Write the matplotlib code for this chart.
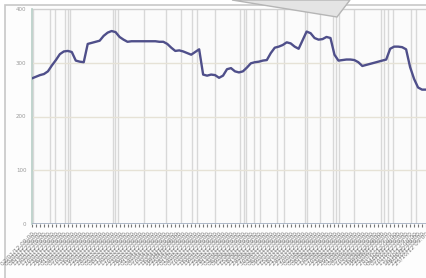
import matplotlib
matplotlib.use("Agg")
from matplotlib import pyplot as plt
from matplotlib.patches import Polygon, Rectangle
import pandas as pd

# Data (one sample per time step)
values = [271, 274, 277, 279, 284, 295, 305, 316, 321, 322,
          320, 304, 302, 301, 335, 337, 339, 341, 350, 356,
          359, 357, 348, 343, 339, 340, 340, 340, 340, 340,
          340, 340, 339, 339, 335, 328, 322, 323, 321, 318,
          315, 320, 325, 278, 276, 278, 277, 272, 276, 288,
          290, 284, 282, 284, 291, 299, 301, 302, 304, 305,
          318, 328, 330, 333, 338, 336, 330, 326, 342, 358,
          355, 346, 343, 344, 348, 346, 315, 304, 305, 306,
          306, 305, 301, 294, 296, 298, 300, 302, 304, 306,
          326, 330, 330, 329, 325, 292, 270, 254, 250, 250]
steps = list(range(len(values)))
tick_labels = [d.strftime('%d/%m/%y %H:%M')
               for d in pd.date_range('2012-01-02 09:00', periods=len(values), freq='3D')]
yticks = [0, 100, 200, 300, 400]
# irregular vertical grid lines (event markers)
event_steps = [0.25, 4.5, 5.75, 8.25, 9, 9.5, 20.25, 20.75, 21.5, 28.25, 33.75,
               37.5, 40.25, 41.5, 46, 52.25, 53.25, 53.75, 55.75, 57.25, 61.5,
               63.25, 68.5, 69, 72.25, 75.75, 76.5, 77.25, 81, 87.75, 88.5,
               89.5, 90.75, 95.25, 96.5]

fig = plt.figure(figsize=(4.26, 2.78), dpi=100)
fig.patch.set_facecolor('white')

# outer panel frame
frame = Rectangle((5 / 426, -0.05), 1.0, 1 - 5 / 278 + 0.05, transform=fig.transFigure,
                  facecolor='#fdfdfd', edgecolor='#c8c8c8', linewidth=1.2)
frame.set_zorder(-5)
fig.add_artist(frame)

ax = fig.add_axes([32 / 426, 1 - 224 / 278, 1 - 32 / 426, (224 - 9) / 278])
ax.set_facecolor('#fbfbfb')

for xv in event_steps:
    ax.axvline(xv, color='#d8d8d8', linewidth=1.0, zorder=1)
for yv in yticks[1:-1]:
    ax.axhline(yv, color='#e6e2d6', linewidth=1.0, zorder=1)
ax.axhline(0, color='#a6b2c4', linewidth=2.0, zorder=3)

ax.plot(steps, values, color='#4f4f8a', linewidth=1.7, zorder=4)

ax.set_xlim(0, (426 - 32) / 4)
ax.set_ylim(0, 400)
ax.set_yticks(yticks)
ax.set_yticklabels([str(v) for v in yticks], fontsize=4, color='#9a9a9a')
ax.tick_params(axis='y', length=0, pad=4)
ax.set_xticks(steps)
ax.set_xticklabels(tick_labels, rotation=45, ha='right', rotation_mode='anchor',
                   fontsize=4.2, color='#7a7a7a')
ax.tick_params(axis='x', length=2, color='#777777', pad=3)

for s in ['top', 'right']:
    ax.spines[s].set_visible(False)
ax.spines['left'].set_color('#b7cec6')
ax.spines['left'].set_linewidth(1.2)
ax.spines['bottom'].set_visible(False)
ax.plot([0, 1], [1, 1], transform=ax.transAxes, color='#d0d0d0', linewidth=1, clip_on=False)

# tooltip pointer at the top
pointer = Polygon([(232 / 426, 1.0), (350 / 426, 1.0), (337 / 426, 1 - 17 / 278)],
                  closed=True, transform=fig.transFigure,
                  facecolor='#e4e4e4', edgecolor='#b5b5b5', linewidth=1)
pointer.set_zorder(10)
fig.add_artist(pointer)

fig.savefig('out.png', dpi=100)
